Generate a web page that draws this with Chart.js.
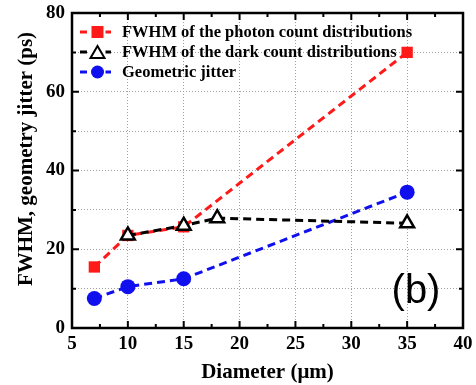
<!DOCTYPE html>
<html><head><meta charset="utf-8">
<script src="https://cdn.jsdelivr.net/npm/chart.js@4.4.0/dist/chart.umd.min.js"></script>
<style>html,body{margin:0;padding:0;background:#fff}#wrap{width:476px;height:385px}</style>
</head><body><div id="wrap"><canvas id="c" width="476" height="385"></canvas></div>
<script>
const photonX = [7, 10, 15, 35];
const photonY = [15.5, 23.5, 25.7, 70];
const darkX = [10, 15, 18, 35];
const darkY = [23.5, 26, 27.9, 26.6];
const geoX = [7, 10, 15, 35];
const geoY = [7.5, 10.5, 12.5, 34.5];
const seriesLabels = ['FWHM of the photon count distributions','FWHM of the dark count distributions','Geometric jitter'];
const xTicks = [5,10,15,20,25,30,35,40];
const yTicks = [0,20,40,60,80];
const xTitle = 'Diameter (μm)';
const yTitle = 'FWHM, geometry jitter (ps)';

const pts = (xs, ys) => xs.map((x,i)=>({x, y: ys[i]}));
const SERIF = '"Liberation Serif","Times New Roman",serif';

const framePlugin = {
  id:'frame',
  afterDraw(chart){
    const {ctx, chartArea:a, scales:{x,y}} = chart;
    ctx.save();
    ctx.strokeStyle='#000'; ctx.lineWidth=2.5;
    ctx.strokeRect(a.left, a.top, a.right-a.left, a.bottom-a.top);
    ctx.lineWidth=2;
    ctx.beginPath();
    for (let v=5; v<=40; v+=2.5){
      const p=x.getPixelForValue(v); const L=(v%5===0)?7:4;
      ctx.moveTo(p,a.bottom); ctx.lineTo(p,a.bottom-L);
      ctx.moveTo(p,a.top); ctx.lineTo(p,a.top+L);
    }
    for (let v=0; v<=80; v+=10){
      const p=y.getPixelForValue(v); const L=(v%20===0)?7:4;
      ctx.moveTo(a.left,p); ctx.lineTo(a.left+L,p);
      ctx.moveTo(a.right,p); ctx.lineTo(a.right-L,p);
    }
    ctx.stroke();
    // legend
    const ds = chart.data.datasets;
    ctx.font = 'bold 16.5px '+SERIF;
    ctx.textBaseline='middle';
    ds.forEach((d,i)=>{
      const yy = a.top + 19 + i*20;
      const x0 = a.left + 8, x1 = a.left + 43, xm = (x0+x1)/2;
      ctx.strokeStyle=d.borderColor; ctx.lineWidth=3; ctx.setLineDash([7,5]);
      ctx.beginPath(); ctx.moveTo(x0,yy); ctx.lineTo(x1,yy); ctx.stroke();
      ctx.setLineDash([]);
      ctx.fillStyle=d.pointBackgroundColor; ctx.strokeStyle=d.pointBorderColor; ctx.lineWidth=2;
      if (d.pointStyle==='rect'){ ctx.fillStyle='#fff'; ctx.fillRect(xm-8,yy-8,16,16); ctx.fillStyle=d.pointBackgroundColor; ctx.fillRect(xm-6,yy-6,12,12); }
      else if (d.pointStyle==='triangle'){
        ctx.fillStyle='#fff'; ctx.fillRect(xm-8,yy-8,16,16);
        ctx.beginPath(); ctx.moveTo(xm,yy-6); ctx.lineTo(xm+7,yy+6); ctx.lineTo(xm-7,yy+6); ctx.closePath();
        ctx.fill(); ctx.stroke();
      } else { ctx.fillStyle='#fff'; ctx.fillRect(xm-8,yy-8,16,16); ctx.fillStyle=d.pointBackgroundColor; ctx.beginPath(); ctx.arc(xm,yy,6.5,0,Math.PI*2); ctx.fill(); }
      ctx.fillStyle='#000';
      ctx.fillText(d.label, x1+7, yy+1);
    });
    // axis titles
    ctx.font = 'bold 21px '+SERIF;
    ctx.textAlign='center';
    ctx.fillText(xTitle, (a.left+a.right)/2, 373);
    ctx.save();
    ctx.translate(27, 159); ctx.rotate(-Math.PI/2);
    ctx.fillText(yTitle, 0, 0);
    ctx.restore();
    ctx.font = '40px "Liberation Sans",Arial,sans-serif';
    ctx.fillText('(b)', 416, 292);
    ctx.restore();
  }
};

new Chart(document.getElementById('c'), {
  type:'scatter',
  data:{datasets:[
    {label:seriesLabels[0], data:pts(photonX,photonY), showLine:true, borderColor:'#ff1a1a', borderWidth:3, borderDash:[8,5],
     pointStyle:'rect', pointRadius:8, pointBackgroundColor:'#ff1a1a', pointBorderColor:'#ff1a1a', pointBorderWidth:0, order:3},
    {label:seriesLabels[1], data:pts(darkX,darkY), showLine:true, borderColor:'#000', borderWidth:3, borderDash:[8,5],
     pointStyle:'triangle', pointRadius:8, pointBackgroundColor:'#fff', pointBorderColor:'#000', pointBorderWidth:2.5, order:1},
    {label:seriesLabels[2], data:pts(geoX,geoY), showLine:true, borderColor:'#1010ee', borderWidth:3, borderDash:[8,5],
     pointStyle:'circle', pointRadius:7.5, pointBackgroundColor:'#1010ee', pointBorderColor:'#1010ee', pointBorderWidth:0, order:2}
  ]},
  options:{
    responsive:false, animation:false, devicePixelRatio:1,
    layout:{padding:{top:13,right:13,left:0,bottom:0}},
    plugins:{legend:{display:false}, tooltip:{enabled:false}},
    scales:{
      x:{type:'linear', min:5, max:40,
        afterBuildTicks(s){ s.ticks = xTicks.map(v=>({value:v})); },
        afterFit(s){ s.height = 57; s.paddingLeft = 0; s.paddingRight = 0; },
        grid:{color:'#a0a0a0', lineWidth:1, drawTicks:false},
        border:{display:false, dash:[1,2]},
        ticks:{color:'#000', padding:5, font:{family:SERIF, size:19, weight:'bold'}}
      },
      y:{type:'linear', min:0, max:80,
        afterBuildTicks(s){ const t=[]; for(let v=0;v<=80;v+=10) t.push({value:v}); s.ticks=t; },
        afterFit(s){ s.width = 72; s.paddingTop = 0; s.paddingBottom = 0; },
        grid:{color:'#a0a0a0', lineWidth:1, drawTicks:false},
        border:{display:false, dash:[1,2]},
        ticks:{color:'#000', padding:7, font:{family:SERIF, size:19, weight:'bold'},
          callback:(v)=> yTicks.includes(v) ? String(v) : ''}
      }
    }
  },
  plugins:[framePlugin]
});
</script></body></html>
